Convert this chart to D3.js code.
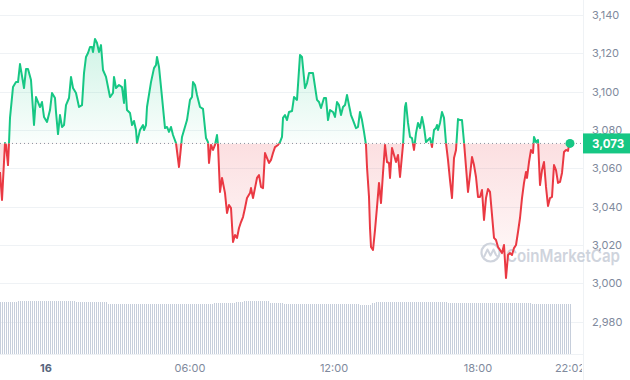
<!DOCTYPE html>
<html><head><meta charset="utf-8">
<script src="https://cdn.jsdelivr.net/npm/d3@7"></script>
<style>
html,body{margin:0;padding:0;background:#fff;}
svg{display:block;font-family:Inter,"Noto Sans",sans-serif;}
</style></head><body>
<svg id="chart" width="630" height="380"></svg>
<script>
// ---- data ----
const startTime = new Date(2024, 0, 15, 22, 5);
// [minutes after start, price in USD]
const pricePoints = [
[0,3058.1],[5,3043.5],[12.5,3073.2],[15,3072.2],[20,3061.7],[22.5,3073.2],[25,3086.3],[32.5,3102.4],[40,3105],[45,3105],
[50,3114.4],[60,3101.9],[65,3111.8],[70,3111.8],[77.5,3106.1],[85,3082.6],[90,3097.2],[95,3094.6],[100,3092],[105,3094.6],
[110,3086.8],[117.5,3084.2],[125,3090.4],[130,3099.3],[137.5,3096.7],[140,3089.4],[145,3077.9],[150,3087.8],[155,3081.6],[160,3082.6],
[165,3093],[172.5,3096.7],[177.5,3107.7],[182.5,3101.9],[190,3099.3],[197.5,3092],[205,3093],[210,3109.7],[215,3118.1],[220,3120.2],
[225,3123.3],[230,3123.3],[232.5,3120.7],[237.5,3127.5],[242.5,3125.4],[247.5,3120.7],[252.5,3124.3],[257.5,3111.3],[265,3107.7],[275,3097.2],
[282.5,3099.3],[285,3107.7],[290,3101.9],[297.5,3103.5],[305,3102.4],[310,3094.1],[312.5,3106.1],[317.5,3090.4],[325,3088.9],[330,3082.6],
[335,3084.7],[340,3080],[342.5,3073.2],[350,3080],[357.5,3082.6],[360,3080],[365,3082.6],[367.5,3092],[377.5,3105],[385,3112.3],
[390,3113.9],[392.5,3118.1],[397.5,3112.9],[405,3097.2],[412.5,3081],[417.5,3081.6],[422.5,3079],[427.5,3081.6],[432.5,3077.4],[440,3073.2],
[447.5,3060.7],[455,3076.4],[467.5,3085.2],[475,3095.7],[480,3097.2],[482.5,3105],[487.5,3103.5],[492.5,3098.3],[500,3092],[507.5,3091],
[515,3075.8],[520,3073.7],[522.5,3062.8],[527.5,3072.2],[532.5,3069.6],[537.5,3072.2],[542.5,3077.4],[545,3072.2],[550,3047.7],[555,3055],
[562.5,3047.1],[567.5,3036.7],[572.5,3040.9],[577.5,3039.3],[582.5,3021.6],[587.5,3025.2],[592.5,3023.7],[597.5,3028.9],[602.5,3032],[607.5,3034.6],
[612.5,3039.3],[617.5,3044.5],[625,3047.1],[627.5,3049.7],[632.5,3044.5],[637.5,3049.7],[642.5,3055],[647.5,3056.5],[652.5,3050.3],[657.5,3049.7],
[662.5,3068],[672.5,3062.8],[677.5,3064.4],[682.5,3068],[687.5,3071.1],[695,3072.2],[700,3073.7],[705,3076.4],[707.5,3086.3],[712.5,3087.8],
[717.5,3085.2],[722.5,3089.4],[730,3089.9],[735,3097.2],[742.5,3095.7],[750,3119.1],[755,3118.1],[762.5,3101.9],[767.5,3104.5],[772.5,3109.7],
[782.5,3109.7],[792.5,3095.7],[797.5,3094.6],[802.5,3091.5],[810,3096.7],[815,3096.7],[820,3085.2],[825,3090.4],[832.5,3089.4],[837.5,3086.8],
[842.5,3094.6],[847.5,3093],[852.5,3087.8],[857.5,3092],[862.5,3093],[867.5,3098.3],[872.5,3093],[877.5,3087.8],[882.5,3085.2],[890,3081],
[895,3081.6],[900,3089.4],[905,3085.2],[910,3079],[915,3072.2],[917.5,3060.7],[922.5,3045.1],[925,3028.9],[927.5,3019],[932.5,3017.4],
[937.5,3027.8],[942.5,3039.8],[947.5,3052.4],[952.5,3041.9],[957.5,3057.6],[962.5,3072.2],[967.5,3063.3],[972.5,3062.8],[975,3055],[980,3070.6],
[985,3067],[990,3063.3],[995,3067],[1000,3055.5],[1007.5,3072.2],[1012.5,3092],[1015,3094.1],[1020,3083.7],[1025,3076.4],[1030,3075.8],
[1035,3069.6],[1040,3078.4],[1045,3083.7],[1050,3081],[1055,3086.8],[1060,3081.6],[1065,3073.7],[1070,3074.8],[1075,3075.8],[1080,3071.1],
[1085,3080],[1090,3081],[1092.5,3082.6],[1095,3080],[1100,3083.7],[1105,3089.4],[1110,3086.3],[1115,3073.2],[1120,3064.4],[1125,3053.9],
[1130,3044.5],[1135,3065.4],[1140,3069.6],[1145,3085.7],[1150,3085.2],[1155,3085.2],[1160,3073.7],[1165,3060.7],[1170,3047.7],[1175,3056.5],
[1180,3065.9],[1185,3061.7],[1190,3055.5],[1195,3045.1],[1200,3045.1],[1205,3048.7],[1210,3033.1],[1215,3044.5],[1220,3049.2],[1225,3047.7],
[1230,3035.7],[1235,3023.7],[1240,3022.6],[1245,3019],[1250,3017.4],[1255,3015.8],[1260,3020],[1265,3002.8],[1270,3014.8],[1275,3015.8],
[1280,3014.8],[1285,3018.4],[1290,3020],[1295,3026.8],[1300,3034.1],[1305,3044.5],[1310,3052.4],[1315,3058.1],[1317.5,3055],[1322.5,3063.3],
[1327.5,3069.6],[1332.5,3068],[1335,3076.4],[1340,3073.7],[1345,3074.8],[1350,3051.3],[1355,3059.1],[1360,3063.3],[1365,3050.3],[1370,3040.4],
[1375,3044.5],[1380,3045.1],[1385,3061.7],[1390,3059.1],[1395,3052.4],[1400,3052.9],[1405,3057.6],[1410,3068.5],[1415,3069.6],[1420,3069.1],
[1422.5,3072.2],[1425,3073]
];
// volume per 5-minute bar (billions USD, 24h rolling)
const volumeValues = [
14.2,14.2,14.2,14.2,14.2,14.2,14.2,14.2,14.2,
14.5,14.5,14.5,14.5,14.5,14.5,14.5,14.5,14.5,14.5,
14.5,14.5,14.5,14.5,14.5,14.5,14.5,14.5,14.5,14.5,
14.5,14.5,14.5,14.5,14.5,14.5,14.5,14.5,14.5,
14.35,14.35,
14.2,14.2,14.2,14.2,14.2,14.2,14.2,14.2,14.2,14.2,14.2,14.2,14.2,14.2,
13.7,13.7,13.7,13.7,13.7,13.7,13.7,13.7,13.7,13.7,
13.7,13.7,13.7,13.7,13.7,13.7,13.7,13.7,13.7,13.7,
13.7,13.7,13.7,13.7,13.7,13.7,13.7,13.7,13.7,13.7,
13.7,13.7,13.7,13.7,13.7,13.7,13.7,13.7,13.7,13.7,
13.7,13.7,13.7,13.7,13.7,13.7,13.7,13.7,13.7,13.7,
13.7,13.7,13.7,
13.95,13.95,13.95,13.95,13.95,13.95,13.95,13.95,13.95,13.95,13.95,
14.2,14.2,14.2,14.2,
14.5,14.5,14.5,14.5,14.5,14.5,14.5,14.5,14.5,14.5,14.5,14.5,14.5,
14.1,14.1,14.1,14.1,14.1,14.1,14.1,
13.7,13.7,13.7,13.7,13.7,13.7,13.7,13.7,13.7,13.7,
13.7,13.7,13.7,13.7,13.7,13.7,13.7,13.7,13.7,13.7,
13.7,13.7,13.7,13.7,13.7,13.7,13.7,13.7,13.7,13.7,
13.7,13.7,13.7,13.7,13.7,13.7,13.7,13.7,
13.5,13.5,13.5,13.5,13.5,13.5,
13.95,13.95,
14.25,14.25,14.25,14.25,14.25,14.25,14.25,14.25,14.25,14.25,
14.25,14.25,14.25,14.25,14.25,14.25,14.25,14.25,14.25,14.25,
14.25,14.25,14.25,14.25,14.25,14.25,14.25,14.25,14.25,14.25,
14.25,14.25,14.25,14.25,14.25,14.25,
14.0,14.0,14.0,14.0,14.0,14.0,14.0,14.0,14.0,14.0,
14.0,14.0,14.0,14.0,14.0,14.0,14.0,14.0,14.0,14.0,
14.0,14.0,14.0,14.0,14.0,14.0,14.0,14.0,14.0,14.0,
14.0,14.0,14.0,14.0,14.0,14.0,14.0,14.0,14.0,14.0,
14.0,14.0,
13.75,13.75,13.75,13.75,13.75,13.75,13.75,13.75,13.75,13.75,
13.75,13.75,13.75,13.75,13.75,13.75,13.75,13.75,13.75,13.75
];
const volumeStepMinutes = 5;
const yTickValues = [2980, 3000, 3020, 3040, 3060, 3080, 3100, 3120, 3140];
const xTickMinutes = [115, 475, 835, 1195, 1425];
const xTickLabels = ["16", "06:00", "12:00", "18:00", "22:02"];
const basePrice = 3073;
const lastPrice = 3073;

// ---- drawing ----
const W = 630, H = 380;
const plotRight = 583;
const minutes = m => new Date(startTime.getTime() + m * 60000);
const svg = d3.select("#chart");
const defs = svg.append("defs");

const x = d3.scaleTime().domain([startTime, minutes(1425)]).range([0, 570]);
const y = d3.scaleLinear().domain([2980, 3140]).range([321.7, 15]);
const vy = d3.scaleLinear().domain([0, 14.8]).range([353.5, 300]);

const green = "#16c784", red = "#ea3943";
const baseY = y(basePrice);

// grid lines
svg.append("g").selectAll("line").data(yTickValues).join("line")
  .attr("x1", 0).attr("x2", plotRight)
  .attr("y1", d => Math.round(y(d)) + 0.5).attr("y2", d => Math.round(y(d)) + 0.5)
  .attr("stroke", "#eff2f5").attr("stroke-width", 1);
// right separator
svg.append("line").attr("x1", plotRight + 0.5).attr("x2", plotRight + 0.5)
  .attr("y1", 0).attr("y2", H).attr("stroke", "#eff2f5");
// bottom line
svg.append("line").attr("x1", 0).attr("x2", plotRight)
  .attr("y1", 354.5).attr("y2", 354.5).attr("stroke", "#eff2f5");

// volume bars (crisp 1px stripes)
svg.append("g").attr("shape-rendering", "crispEdges").selectAll("rect").data(volumeValues).join("rect")
  .attr("x", (d, i) => Math.round(x(minutes(i * volumeStepMinutes))))
  .attr("width", 1)
  .attr("y", d => vy(d))
  .attr("height", d => vy(0) - vy(d))
  .attr("fill", "#c6cedb");

// watermark
const wm = svg.append("g").attr("opacity", 0.75);
wm.append("circle").attr("cx", 490.5).attr("cy", 252.5).attr("r", 9)
  .attr("fill", "none").attr("stroke", "#c0c6d2").attr("stroke-width", 2.2);
wm.append("path").attr("d", "M484,257 L487.5,249.5 L490.5,255.5 L493.5,249.5 L496,255 Q497.5,257 499,256")
  .attr("fill", "none").attr("stroke", "#c0c6d2").attr("stroke-width", 2).attr("stroke-linejoin", "round");
wm.append("text").attr("x", 506).attr("y", 261.5).text("CoinMarketCap")
  .attr("font-size", 17).attr("font-weight", 600).attr("fill", "#c0c6d2")
  .attr("textLength", 114).attr("lengthAdjust", "spacingAndGlyphs");

// clip paths
defs.append("clipPath").attr("id", "above").append("rect")
  .attr("x", 0).attr("y", 0).attr("width", plotRight).attr("height", baseY);
defs.append("clipPath").attr("id", "below").append("rect")
  .attr("x", 0).attr("y", baseY).attr("width", plotRight).attr("height", H - baseY);

// gradients
const gG = defs.append("linearGradient").attr("id", "gGreen").attr("gradientUnits", "userSpaceOnUse")
  .attr("x1", 0).attr("x2", 0).attr("y1", 30).attr("y2", baseY);
gG.append("stop").attr("offset", 0).attr("stop-color", green).attr("stop-opacity", 0.22);
gG.append("stop").attr("offset", 1).attr("stop-color", green).attr("stop-opacity", 0.02);
const gR = defs.append("linearGradient").attr("id", "gRed").attr("gradientUnits", "userSpaceOnUse")
  .attr("x1", 0).attr("x2", 0).attr("y1", baseY).attr("y2", 285);
gR.append("stop").attr("offset", 0).attr("stop-color", red).attr("stop-opacity", 0.16);
gR.append("stop").attr("offset", 1).attr("stop-color", red).attr("stop-opacity", 0.01);

const px = d => x(minutes(d[0]));
const area = d3.area().x(px).y0(baseY).y1(d => y(d[1]));
const line = d3.line().x(px).y(d => y(d[1]));

svg.append("path").datum(pricePoints).attr("d", area).attr("fill", "url(#gGreen)").attr("clip-path", "url(#above)");
svg.append("path").datum(pricePoints).attr("d", area).attr("fill", "url(#gRed)").attr("clip-path", "url(#below)");

// dotted base line
svg.append("line").attr("x1", 0).attr("x2", plotRight).attr("y1", baseY).attr("y2", baseY)
  .attr("stroke", "#8a919e").attr("stroke-width", 1).attr("stroke-dasharray", "1 3");

svg.append("path").datum(pricePoints).attr("d", line).attr("fill", "none")
  .attr("stroke", green).attr("stroke-width", 2).attr("stroke-linejoin", "round").attr("clip-path", "url(#above)");
svg.append("path").datum(pricePoints).attr("d", line).attr("fill", "none")
  .attr("stroke", red).attr("stroke-width", 2).attr("stroke-linejoin", "round").attr("clip-path", "url(#below)");

// end dot
const last = pricePoints[pricePoints.length - 1];
svg.append("circle").attr("cx", px(last)).attr("cy", y(last[1])).attr("r", 4.5).attr("fill", green);

// y axis labels
svg.append("g").selectAll("text").data(yTickValues).join("text")
  .attr("x", 592).attr("y", d => y(d)).attr("dy", "0.36em")
  .attr("font-size", 11).attr("fill", "#808a9d")
  .text(d => d3.format(",")(d));

// current price tag
svg.append("rect").attr("x", plotRight).attr("y", baseY - 10).attr("width", W - plotRight).attr("height", 20).attr("fill", green);
svg.append("text").attr("x", 592).attr("y", baseY).attr("dy", "0.36em")
  .attr("font-size", 11.5).attr("font-weight", 700).attr("fill", "#fff")
  .text(d3.format(",")(lastPrice));

// x axis labels
defs.append("clipPath").attr("id", "xclip").append("rect")
  .attr("x", 0).attr("y", 355).attr("width", plotRight - 1).attr("height", 25);
svg.append("g").attr("clip-path", "url(#xclip)").selectAll("text").data(xTickMinutes).join("text")
  .attr("x", d => x(minutes(d))).attr("y", 372)
  .attr("text-anchor", "middle").attr("font-size", 11)
  .attr("font-weight", (d, i) => i === 0 ? 700 : 400)
  .attr("fill", (d, i) => i === 0 ? "#58667e" : "#808a9d")
  .text((d, i) => xTickLabels[i]);
</script>
</body></html>
